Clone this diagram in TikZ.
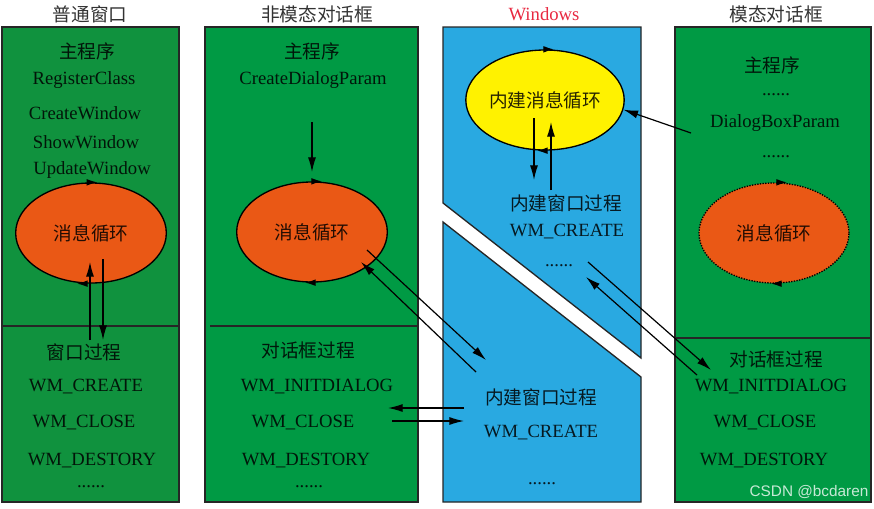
\documentclass[tikz,border=0pt]{standalone}
\usepackage{fontspec}
\setmainfont{Liberation Serif}
\newfontfamily\cjk{Noto Sans CJK SC}
\newfontfamily\wmfont{Liberation Sans}
\usetikzlibrary{shapes.geometric,arrows.meta}
\definecolor{gbox}{RGB}{0,154,68}
\definecolor{gboxd}{RGB}{16,146,62}
\definecolor{wblue}{RGB}{41,169,225}
\definecolor{loopc}{RGB}{234,88,21}
\definecolor{yloop}{RGB}{255,242,0}
\definecolor{wred}{RGB}{232,40,64}
\tikzset{
  lbl/.style={inner sep=0pt, text=black, text opacity=0.85, font=\fontsize{14}{16}\selectfont},
  cn/.style={lbl, font=\cjk\fontsize{14}{16}\selectfont},
  hdr/.style={cn, text=black!80, text opacity=1},
  box/.style={draw=black!85, line width=1pt},
  loopnode/.style={ellipse, draw, line width=1pt, fill=loopc, minimum width=113pt, minimum height=75pt},
  arr/.style={-{Latex[length=11pt,width=6pt]}, line width=0.9pt},
  mk/.style={-{Latex[length=8pt,width=5pt]}, line width=0.9pt},
}

\begin{document}
\begin{tikzpicture}[x=0.75pt, y=-0.75pt]
  \useasboundingbox (0,0) rectangle (874,508);

  \filldraw[box, fill=gboxd] (2,27) rectangle (179,502);
  \filldraw[box, fill=gbox] (205,27) rectangle (418,502);
  \filldraw[box, fill=wblue] (443,27) -- (641,27) -- (641,358) -- (443,203) -- cycle;
  \filldraw[box, fill=wblue] (443,222) -- (641,377) -- (641,502) -- (443,502) -- cycle;
  \filldraw[box, fill=gbox] (675,27) rectangle (871,502);
  \draw[box] (2,326) -- (179,326);
  \draw[box] (210,326) -- (418,326);
  \draw[box] (675,338) -- (871,338);

  \node[hdr] (h1) at (90,14) {普通窗口};
  \node[hdr] (h2) at (317,14) {非模态对话框};
  \node[lbl, text=wred, text opacity=1] (h3) at (544,14) {Windows};
  \node[hdr] (h4) at (776,14) {模态对话框};

  % 普通窗口
  \node[cn] (main1) at (87,51) {主程序};
  \node[lbl] (reg1) at (84,80) {RegisterClass};
  \node[lbl] (cw1) at (85,113) {CreateWindow};
  \node[lbl] (sw1) at (86,142) {ShowWindow};
  \node[lbl] (uw1) at (92,170) {UpdateWindow};
  \node[cn, loopnode] (loop1) at (91,233) {消息循环};
  \draw[mk] ([xshift=1pt]loop1.north) -- ++(5,0);
  \draw[mk] ([xshift=-6.75pt]loop1.south) -- ++(-5,0);
  \node[cn] (wp1) at (84,352) {窗口过程};
  \node[lbl] (wmc1) at (86,387) {WM\_CREATE};
  \node[lbl] (wmcl1) at (84,423) {WM\_CLOSE};
  \node[lbl] (wmd1) at (92,461) {WM\_DESTORY};
  \node[lbl, anchor=base] (dots1) at (91,487) {......};
  \coordinate (up1a) at (90,340);
  \coordinate (up1b) at (90,262);
  \coordinate (dn1a) at (103,259);
  \coordinate (dn1b) at (103,340);
  \draw[arr] (up1a) -- (up1b);
  \draw[arr] (dn1a) -- (dn1b);

  % 非模态对话框
  \node[cn] (main2) at (312,51) {主程序};
  \node[lbl] (cdp2) at (313,80) {CreateDialogParam};
  \node[cn, loopnode] (loop2) at (312,232) {消息循环};
  \draw[mk] ([xshift=3.75pt]loop2.north) -- ++(5,0);
  \draw[mk] ([xshift=-1.5pt]loop2.south) -- ++(-5,0);
  \coordinate (c2) at (312,122);
  \draw[arr] (c2) -- ([yshift=7pt]loop2.north);
  \node[cn] (dp2) at (308,350) {对话框过程};
  \node[lbl] (wmi2) at (317,387) {WM\_INITDIALOG};
  \node[lbl] (wmcl2) at (303,423) {WM\_CLOSE};
  \node[lbl] (wmd2) at (306,461) {WM\_DESTORY};
  \node[lbl, anchor=base] (dots2) at (309,487) {......};

  % Windows
  \node[cn, loopnode, fill=yloop, minimum width=114pt] (inloop) at (545,100) {内建消息循环};
  \draw[mk] ([xshift=3pt]inloop.north) -- ++(5,0);
  \draw[mk] ([xshift=-2.25pt]inloop.south) -- ++(-5,0);
  \node[cn] (inwp3) at (566,203) {内建窗口过程};
  \node[lbl] (wmc3) at (567,232) {WM\_CREATE};
  \node[lbl, anchor=base] (dots3) at (559,266) {......};
  \coordinate (dn3a) at (534,118);
  \coordinate (dn3b) at (534,180);
  \coordinate (up3a) at (551,190);
  \coordinate (up3b) at (551,122);
  \draw[arr] (dn3a) -- (dn3b);
  \draw[arr] (up3a) -- (up3b);
  \node[cn] (inwp4) at (541,397) {内建窗口过程};
  \node[lbl] (wmc4) at (541,433) {WM\_CREATE};
  \node[lbl, anchor=base] (dots4) at (542,484) {......};

  % 模态对话框
  \node[cn] (main5) at (772,65) {主程序};
  \node[lbl, anchor=base] (dots5) at (776,95) {......};
  \node[lbl] (dbp5) at (775,123) {DialogBoxParam};
  \node[lbl, anchor=base] (dots6) at (776,157) {......};
  \node[cn, loopnode, densely dotted, minimum width=112.5pt] (loop5) at (774,233) {消息循环};
  \draw[mk] ([xshift=6pt]loop5.north) -- ++(5,0);
  \draw[mk] ([xshift=1.5pt]loop5.south) -- ++(-5,0);
  \node[cn] (dp5) at (776,359) {对话框过程};
  \node[lbl] (wmi5) at (771,387) {WM\_INITDIALOG};
  \node[lbl] (wmcl5) at (765,423) {WM\_CLOSE};
  \node[lbl] (wmd5) at (764,461) {WM\_DESTORY};
  \coordinate (dbpx) at (691,133);
  \draw[arr] (dbpx) -- (inloop.-7);

  % between the columns
  \coordinate (la) at (367,250);
  \coordinate (lb) at (486,360);
  \coordinate (lc) at (476,372);
  \coordinate (ld) at (361,262);
  \draw[arr] (la) -- (lb);
  \draw[arr] (lc) -- (ld);
  \coordinate (ha) at (464,408);
  \coordinate (hb) at (388,408);
  \coordinate (hc) at (392,421);
  \coordinate (hd) at (464,421);
  \draw[arr] (ha) -- (hb);
  \draw[arr] (hc) -- (hd);
  \coordinate (ra) at (588,262);
  \coordinate (rb) at (711,370);
  \coordinate (rc) at (697,375);
  \coordinate (rd) at (586,277);
  \draw[arr] (ra) -- (rb);
  \draw[arr] (rc) -- (rd);

  \node[font=\wmfont\fontsize{11.5}{13}\selectfont, text=white!78!gbox, inner sep=0pt] (wm) at (809,492) {CSDN @bcdaren};
\end{tikzpicture}
\end{document}
